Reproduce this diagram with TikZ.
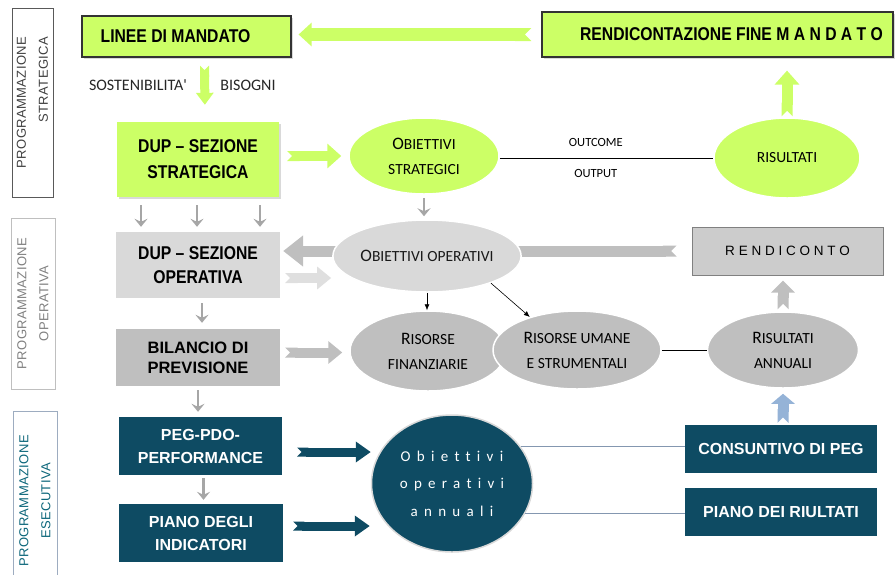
\documentclass[tikz,border=0pt]{standalone}
\usepackage{fontspec}
\setmainfont{Liberation Sans}
\newfontfamily\narrowfont[FakeStretch=0.85]{Liberation Sans}
\newfontfamily\calfont{Carlito}
\newfontfamily\airfont[LetterSpace=42,Ligatures=NoCommon]{Carlito}
\newfontfamily\sidefont[LetterSpace=3]{Liberation Sans}
\newfontfamily\rendfont[LetterSpace=28]{Liberation Sans}
\usetikzlibrary{shapes.geometric,arrows.meta,shadows}

\definecolor{lime}{HTML}{CCFF66}
\definecolor{petrol}{HTML}{0E4B63}
\definecolor{lightgrey}{HTML}{D9D9D9}
\definecolor{midgrey}{HTML}{BFBFBF}
\definecolor{arrowgrey}{HTML}{A6A6A6}
\definecolor{steel}{HTML}{95B3D7}
\definecolor{lineblue}{HTML}{8497B0}

\newcommand\bigini[1]{{\fontsize{17.5}{17.5}\selectfont #1}}

\tikzset{
  limebox/.style={rectangle, fill=lime, align=center,
    font=\narrowfont\bfseries\fontsize{18.5}{26}\selectfont,
    drop shadow={opacity=0.3, shadow xshift=2pt, shadow yshift=-2pt}},
  greybox/.style={rectangle, align=center,
    font=\narrowfont\bfseries\fontsize{18.5}{24}\selectfont},
  petrolbox/.style={rectangle, fill=petrol, text=white, align=center,
    font=\bfseries\fontsize{16}{23}\selectfont},
  oval/.style={ellipse, draw=white, line width=1.5pt, inner sep=0pt, align=center,
    font=\calfont\fontsize{15.5}{25}\selectfont},
  sidebox/.style={rectangle, rotate=90, line width=1pt, inner sep=0pt,
    font=\sidefont\fontsize{13}{22}\selectfont},
  thinarrow/.style={draw=arrowgrey, line width=2.5pt,
    -{Stealth[length=8pt,width=13pt,inset=3pt]}},
  fatarrow/.style n args={3}{line width=#1,
    {Triangle Cap[reversed]}-{Triangle[width=#2,length=#3]}}
}

\begin{document}
\begin{tikzpicture}[x=1pt,y=-1pt]
\useasboundingbox (0,0) rectangle (896,574);
\clip (0,0) rectangle (896,574);

% side labels
\node[sidebox, draw=black!65, text=black!75, align=right,
  minimum width=189pt, minimum height=41pt] (sidestr) at (32.5,102.5)
  {PROGRAMMAZIONE\\STRATEGICA};
\node[sidebox, draw=midgrey, text=black!50, align=center,
  minimum width=171pt, minimum height=44pt] (sideop) at (33,303.5)
  {PROGRAMMAZIONE\\OPERATIVA};
\node[sidebox, draw=lineblue!80, text=petrol!85!cyan, align=center,
  minimum width=180pt, minimum height=44pt] (sideese) at (35,501)
  {PROGRAMMAZIONE\\ESECUTIVA};

% strategic level
\node[limebox, draw=black!80, line width=1.2pt, minimum width=209pt, minimum height=41pt]
  (linee) at (186.5,36.5) {LINEE DI MANDATO\hspace*{22pt}};
\node[limebox, draw=black!80, line width=1.2pt, minimum width=351pt, minimum height=45pt]
  (rendfm) at (717.5,34.5) {\hspace*{28pt}RENDICONTAZIONE FINE M A N D A T O};
\node[limebox, minimum width=162pt, minimum height=75pt]
  (dupstr) at (198,159.5) {DUP – SEZIONE\\STRATEGICA};
\node[oval, fill=lime, minimum width=150pt, minimum height=76pt]
  (obstr) at (424,156) {\bigini{O}BIETTIVI\\STRATEGICI};
\node[oval, fill=lime, minimum width=146pt, minimum height=80pt]
  (risult) at (787,158) {RISULTATI};

\draw[fatarrow={13pt}{23pt}{13pt}, lime, shorten <=10pt, shorten >=7pt]
  (rendfm.west) -- (linee.east |- rendfm.west);
\draw[fatarrow={9pt}{17pt}{12pt}, lime, shorten <=8pt, shorten >=17pt]
  ([xshift=18pt]linee.south) -- ([xshift=7pt]dupstr.north);
\node[font=\calfont\fontsize{16}{16}\selectfont, text=black!85] (sost) at (138,85) {SOSTENIBILITA'};
\node[font=\calfont\fontsize{16}{16}\selectfont, text=black!85] (bis) at (248,85) {BISOGNI};
\draw[fatarrow={10pt}{24pt}{14pt}, lime, shorten <=8pt, shorten >=7pt]
  (dupstr.east |- obstr.west) -- (obstr.west);
\draw[fatarrow={11pt}{24pt}{14pt}, lime, shorten <=1pt, shorten >=13pt]
  (risult.north) -- (rendfm.south -| risult.north);
\draw[line width=1pt] ([yshift=-2pt]obstr.east) -- ([yshift=-2pt]obstr.east -| risult.west)
  node[pos=0.45, above=8pt, font=\calfont\fontsize{12.5}{12.5}\selectfont] (outc) {OUTCOME}
  node[pos=0.45, below=8pt, font=\calfont\fontsize{12.5}{12.5}\selectfont] (outp) {OUTPUT};

% operative level
\node[greybox, fill=lightgrey, minimum width=164pt, minimum height=66pt]
  (dupop) at (198,265) {DUP – SEZIONE\\OPERATIVA};
\node[rectangle, fill=midgrey!80!white, draw=black!50, line width=1pt,
  minimum width=191pt, minimum height=48pt, font=\rendfont\fontsize{13.5}{13.5}\selectfont]
  (rendic) at (787.5,251) {RENDICONTO};
\draw[fatarrow={11pt}{30pt}{20pt}, midgrey, shorten <=15pt, shorten >=3pt]
  (rendic.west) -- (dupop.east |- rendic.west);
\node[oval, fill=lightgrey, text=black!90, minimum width=173pt, minimum height=72pt]
  (obop) at (427,256) {\bigini{O}BIETTIVI OPERATIVI};
\draw[fatarrow={10pt}{22pt}{14pt}, lightgrey!85!white, shorten <=5pt, shorten >=1pt]
  ([yshift=-13pt]dupop.east) -- ([yshift=-13pt]dupop.east -| obop.west);

\foreach \dx in {-57,-1,62}
  \draw[thinarrow, shorten <=8pt, shorten >=5pt]
    ([xshift=\dx pt]dupstr.south) -- ([xshift=\dx pt]dupop.north);
\draw[thinarrow, shorten <=3pt, shorten >=3pt] (obstr.south) -- (obstr.south |- obop.north);

\node[rectangle, fill=midgrey, align=center, minimum width=164pt, minimum height=57pt,
  font=\bfseries\fontsize{16.5}{20}\selectfont]
  (bilancio) at (198,357.5) {BILANCIO DI\\PREVISIONE};
\draw[thinarrow, shorten <=5pt, shorten >=6pt]
  ([xshift=4pt]dupop.south) -- ([xshift=4pt]dupop.south |- bilancio.north);

\node[oval, fill=midgrey, minimum width=156pt, minimum height=80pt]
  (risfin) at (428,351) {\bigini{R}ISORSE\\FINANZIARIE};
\node[oval, fill=midgrey, minimum width=168pt, minimum height=78pt]
  (risum) at (577,350) {\bigini{R}ISORSE UMANE\\E STRUMENTALI};
\node[oval, fill=midgrey, minimum width=151pt, minimum height=76pt]
  (risann) at (783,350) {\bigini{R}ISULTATI\\ANNUALI};

\draw[fatarrow={10pt}{22pt}{14pt}, midgrey, shorten <=5pt, shorten >=7pt]
  ([yshift=5pt]bilancio.east) -- ([yshift=5pt]bilancio.east -| risfin.west);
\draw[-{Latex[length=6pt,width=5pt]}, line width=0.6pt] (obop.south) -- (obop.south |- risfin.north);
\draw[-{Latex[length=6pt,width=5pt]}, line width=0.6pt] (obop.-23) -- (risum.145);
\draw[line width=0.8pt] (risum.east) -- (risum.east -| risann.west);
\draw[fatarrow={11pt}{23pt}{12pt}, midgrey, shorten <=2pt, shorten >=5pt]
  (risann.north) -- (rendic.south -| risann.north);

% executive level
\node[petrolbox, minimum width=163pt, minimum height=58pt]
  (peg) at (200.5,446) {PEG-PDO-\\PERFORMANCE};
\node[petrolbox, minimum width=164pt, minimum height=58pt]
  (piano) at (201,533) {PIANO DEGLI\\INDICATORI};
\node[oval, fill=petrol, draw=white!85!black, text=white, minimum width=161pt, minimum height=137pt,
  font=\airfont\fontsize{15}{27.5}\selectfont]
  (obann) at (452,483.5) {Obiettivi\\operativi\\annuali};
\node[petrolbox, minimum width=192pt, minimum height=48pt]
  (consunt) at (781,449) {CONSUNTIVO DI PEG};
\node[petrolbox, minimum width=192pt, minimum height=48pt]
  (pianor) at (781,512) {PIANO DEI RIULTATI};

\draw[thinarrow, shorten <=4pt, shorten >=5pt]
  (bilancio.south) -- (bilancio.south |- peg.north);
\draw[thinarrow, shorten <=3pt, shorten >=4pt]
  ([xshift=3pt]peg.south) -- ([xshift=3pt]peg.south |- piano.north);
\draw[fatarrow={9pt}{20pt}{15pt}, petrol, shorten <=15pt, shorten >=0pt]
  ([yshift=-6pt]peg.east) -- ([yshift=-6pt]peg.east -| obann.west);
\draw[fatarrow={9pt}{20pt}{15pt}, petrol, shorten <=10pt, shorten >=1pt]
  ([yshift=7pt]piano.east) -- ([yshift=7pt]piano.east -| obann.west);
\draw[lineblue, line width=1pt] (obann.28) -- (consunt.west |- obann.28);
\draw[lineblue, line width=1pt] (obann.-22) -- (pianor.west |- obann.-22);
\draw[fatarrow={11pt}{23pt}{10pt}, steel, shorten <=2pt, shorten >=5pt]
  (consunt.north -| risann.south) -- (risann.south);

\end{tikzpicture}
\end{document}
